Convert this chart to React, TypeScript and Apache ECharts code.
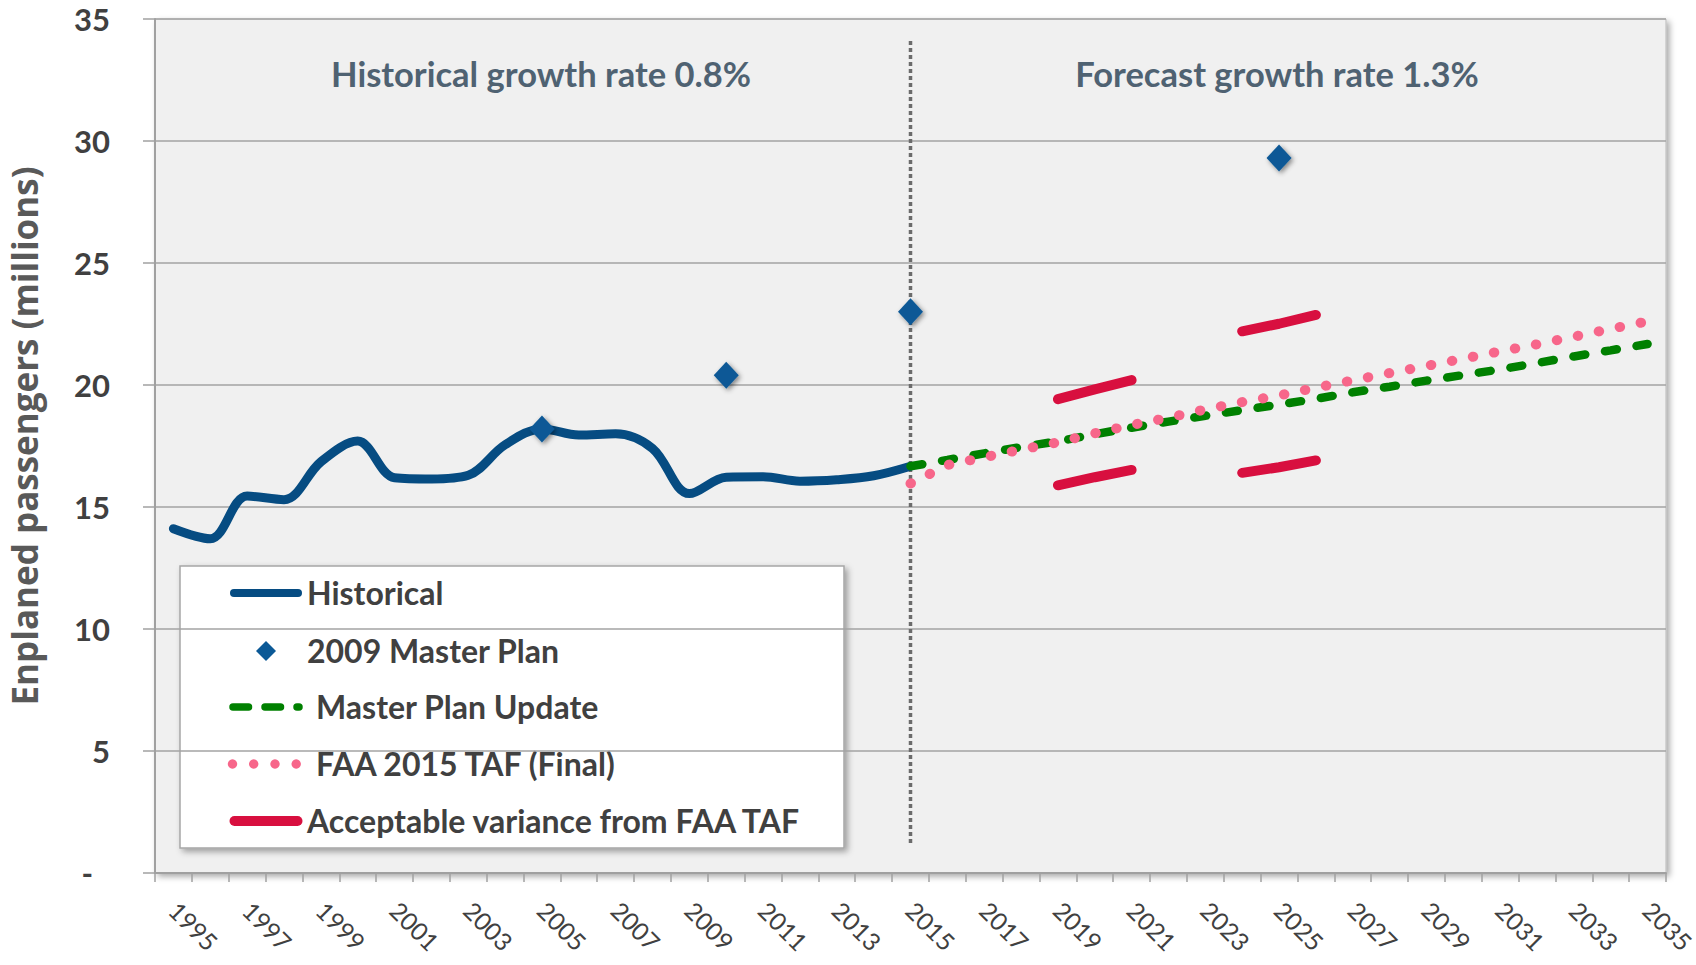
import React, { useEffect, useRef } from "react";
import * as echarts from "echarts";

// ---------- data ----------
const years = [
  "1995", "1996", "1997", "1998", "1999", "2000", "2001", "2002", "2003", "2004",
  "2005", "2006", "2007", "2008", "2009", "2010", "2011", "2012", "2013", "2014",
  "2015", "2016", "2017", "2018", "2019", "2020", "2021", "2022", "2023", "2024",
  "2025", "2026", "2027", "2028", "2029", "2030", "2031", "2032", "2033", "2034", "2035",
];

const historicalYears = [
  "1995", "1996", "1997", "1998", "1999", "2000", "2001", "2002", "2003", "2004",
  "2005", "2006", "2007", "2008", "2009", "2010", "2011", "2012", "2013", "2014", "2015",
];
const historical = [
  14.11, 13.7, 15.45, 15.3, 16.85, 17.7, 16.2, 16.15, 16.3, 17.55,
  18.2, 17.95, 18.0, 17.4, 15.55, 16.22, 16.24, 16.06, 16.12, 16.28, 16.67,
];

const masterPlan2009Years = ["2005", "2010", "2015", "2025"];
const masterPlan2009 = [18.2, 20.4, 23.0, 29.3];

const forecastYears = [
  "2015", "2016", "2017", "2018", "2019", "2020", "2021", "2022", "2023", "2024",
  "2025", "2026", "2027", "2028", "2029", "2030", "2031", "2032", "2033", "2034", "2035",
];
const masterPlanUpdate = [
  16.67, 16.93, 17.2, 17.46, 17.69, 17.98, 18.25, 18.5, 18.74, 18.97,
  19.2, 19.43, 19.7, 19.93, 20.18, 20.41, 20.64, 20.9, 21.17, 21.42, 21.68,
];
const faaTaf2015 = [
  15.96, 16.72, 17.04, 17.35, 17.65, 18.02, 18.36, 18.66, 19.0, 19.3,
  19.57, 19.89, 20.19, 20.49, 20.78, 21.08, 21.38, 21.67, 21.98, 22.3, 22.61,
];

const variance5Years = ["2019", "2020", "2021"];
const variance5Upper = [19.42, 19.82, 20.2];
const variance5Lower = [15.89, 16.22, 16.52];
const variance10Years = ["2024", "2025", "2026"];
const variance10Upper = [22.2, 22.51, 22.87];
const variance10Lower = [16.4, 16.63, 16.91];

const dividerYear = "2015";
const dividerRange = [34.1, 1.13];

const yTicks = { min: 0, max: 35, interval: 5 };

const annotationTexts = ["Historical growth rate 0.8%", "Forecast growth rate 1.3%"];
const legendLabels = [
  "Historical",
  "2009 Master Plan",
  "Master Plan Update",
  "FAA 2015 TAF (Final)",
  "Acceptable variance from FAA TAF",
];
const yAxisTitle = "Enplaned passengers (millions)";

// ---------- helpers ----------
const pairs = (xs: string[], vs: number[]) => xs.map((x, i) => [x, vs[i]]);

const BLUE = "#064c82";
const DIAMOND = "#0b5996";
const GREEN = "#008000";
const PINK = "#f7668a";
const RED = "#d80f3f";
const TXT = "#404040";

export default function App() {
  const ref = useRef<HTMLDivElement>(null);

  useEffect(() => {
    if (!ref.current) return;
    const chart = echarts.init(ref.current, undefined, { renderer: "svg" });

    const redLine = (name: string, xs: string[], vs: number[]) => ({
      name,
      type: "line",
      data: pairs(xs, vs),
      symbol: "none",
      z: 6,
      lineStyle: { color: RED, width: 10, cap: "round" },
    });

    const legendY = [592, 650, 706, 763, 820];
    const legendTextX = [307, 307, 316, 316, 307];

    const option: any = {
      animation: false,
      backgroundColor: "#ffffff",
      grid: {
        left: 155,
        right: 30,
        top: 19,
        bottom: 92,
        outerBoundsMode: "none",
        containLabel: false,
        show: true,
        backgroundColor: "#f0f0f0",
        borderColor: "#b8b8b8",
        borderWidth: 1,
        shadowColor: "rgba(0,0,0,0.35)",
        shadowBlur: 6,
        shadowOffsetX: 3,
        shadowOffsetY: 3,
      },
      xAxis: {
        type: "category",
        data: years,
        boundaryGap: true,
        axisLine: { show: true, lineStyle: { color: "#a0a0a0", width: 2 } },
        axisTick: { show: true, interval: 0, length: 9, lineStyle: { color: "#a0a0a0", width: 1.5 } },
        axisLabel: {
          interval: 1,
          rotate: -45,
          margin: 33,
          fontFamily: "Lato",
          fontSize: 24.5,
          color: TXT,
        },
        splitLine: { show: false },
      },
      yAxis: {
        type: "value",
        min: yTicks.min,
        max: yTicks.max,
        interval: yTicks.interval,
        axisLine: { show: true, lineStyle: { color: "#a0a0a0", width: 2 } },
        axisTick: { show: true, length: 12, lineStyle: { color: "#a0a0a0", width: 1.5 } },
        axisLabel: {
          margin: 45,
          fontFamily: "Lato",
          fontWeight: "bold",
          fontSize: 31,
          color: TXT,
          formatter: (v: number) => (v === 0 ? "{d|-}" : String(v)),
          rich: {
            d: {
              fontFamily: "Lato",
              fontWeight: "bold",
              fontSize: 31,
              color: TXT,
              padding: [0, 17, 0, 0],
            },
          },
        },
        splitLine: { show: true, lineStyle: { color: "#a3a3a3", width: 1.5 } },
      },
      series: [
        {
          name: "divider",
          type: "line",
          data: [
            [dividerYear, dividerRange[0]],
            [dividerYear, dividerRange[1]],
          ],
          symbol: "none",
          z: 1,
          lineStyle: { color: "#6b6b6b", width: 3.5, type: [4, 3] },
        },
        {
          name: legendLabels[0],
          type: "line",
          data: pairs(historicalYears, historical),
          symbol: "none",
          smooth: 0.35,
          z: 3,
          lineStyle: { color: BLUE, width: 9, cap: "round" },
        },
        {
          name: legendLabels[2],
          type: "line",
          data: pairs(forecastYears, masterPlanUpdate),
          symbol: "none",
          z: 4,
          lineStyle: { color: GREEN, width: 8.5, type: [12, 20], cap: "round" },
        },
        {
          name: legendLabels[3],
          type: "line",
          data: pairs(forecastYears, faaTaf2015),
          symbol: "none",
          z: 5,
          lineStyle: { color: PINK, width: 10, type: [0.5, 20.9], cap: "round" },
        },
        redLine(legendLabels[4], variance5Years, variance5Upper),
        redLine(legendLabels[4], variance5Years, variance5Lower),
        redLine(legendLabels[4], variance10Years, variance10Upper),
        redLine(legendLabels[4], variance10Years, variance10Lower),
        {
          name: legendLabels[1],
          type: "scatter",
          data: pairs(masterPlan2009Years, masterPlan2009),
          symbol: "diamond",
          symbolSize: [25, 27],
          z: 7,
          itemStyle: {
            color: DIAMOND,
            opacity: 1,
            shadowColor: "rgba(0,0,0,0.45)",
            shadowBlur: 5,
            shadowOffsetX: 2,
            shadowOffsetY: 2,
          },
        },
      ],
      graphic: [
        {
          type: "text",
          x: 24,
          y: 436,
          rotation: Math.PI / 2,
          z: 10,
          style: {
            text: yAxisTitle,
            fill: "#595959",
            fontFamily: "Open Sans",
            fontWeight: "bold",
            fontSize: 35,
            textAlign: "center",
            textVerticalAlign: "middle",
          },
        },
        {
          type: "text",
          x: 541,
          y: 73,
          z: 10,
          style: {
            text: annotationTexts[0],
            fill: "#4f6272",
            fontFamily: "Lato",
            fontWeight: "bold",
            fontSize: 34.5,
            textAlign: "center",
            textVerticalAlign: "middle",
          },
        },
        {
          type: "text",
          x: 1277,
          y: 73,
          z: 10,
          style: {
            text: annotationTexts[1],
            fill: "#4f6272",
            fontFamily: "Lato",
            fontWeight: "bold",
            fontSize: 34.5,
            textAlign: "center",
            textVerticalAlign: "middle",
          },
        },
        {
          type: "group",
          z: 20,
          children: [
            {
              type: "rect",
              shape: { x: 180, y: 566, width: 664, height: 282 },
              style: {
                fill: "#ffffff",
                stroke: "#a6a6a6",
                lineWidth: 1.5,
                shadowColor: "rgba(0,0,0,0.35)",
                shadowBlur: 6,
                shadowOffsetX: 3,
                shadowOffsetY: 3,
              },
            },
            {
              type: "line",
              shape: { x1: 234, y1: 593, x2: 298, y2: 593 },
              style: { stroke: BLUE, lineWidth: 8, lineCap: "round" },
            },
            {
              type: "polygon",
              shape: {
                points: [
                  [266, 641],
                  [276, 651],
                  [266, 661],
                  [256, 651],
                ],
              },
              style: { fill: DIAMOND },
            },
            {
              type: "line",
              shape: { x1: 233, y1: 707, x2: 299, y2: 707 },
              style: { stroke: GREEN, lineWidth: 7.5, lineCap: "round", lineDash: [15.5, 16.5] },
            },
            ...[232.5, 253.7, 275, 296.2].map((cx) => ({
              type: "circle",
              shape: { cx, cy: 764, r: 4.7 },
              style: { fill: PINK },
            })),
            {
              type: "line",
              shape: { x1: 234.5, y1: 821, x2: 297.5, y2: 821 },
              style: { stroke: RED, lineWidth: 10, lineCap: "round" },
            },
            ...legendLabels.map((t, i) => ({
              type: "text",
              x: legendTextX[i],
              y: legendY[i],
              style: {
                text: t,
                fill: TXT,
                fontFamily: "Lato",
                fontWeight: "bold",
                fontSize: 32,
                textAlign: "left",
                textVerticalAlign: "middle",
              },
            })),
          ],
        },
      ],
    };

    chart.setOption(option);
    return () => chart.dispose();
  }, []);

  return (
    <div
      ref={ref}
      style={{ position: "fixed", left: 0, top: 0, width: 1696, height: 965, background: "#fff" }}
    />
  );
}
